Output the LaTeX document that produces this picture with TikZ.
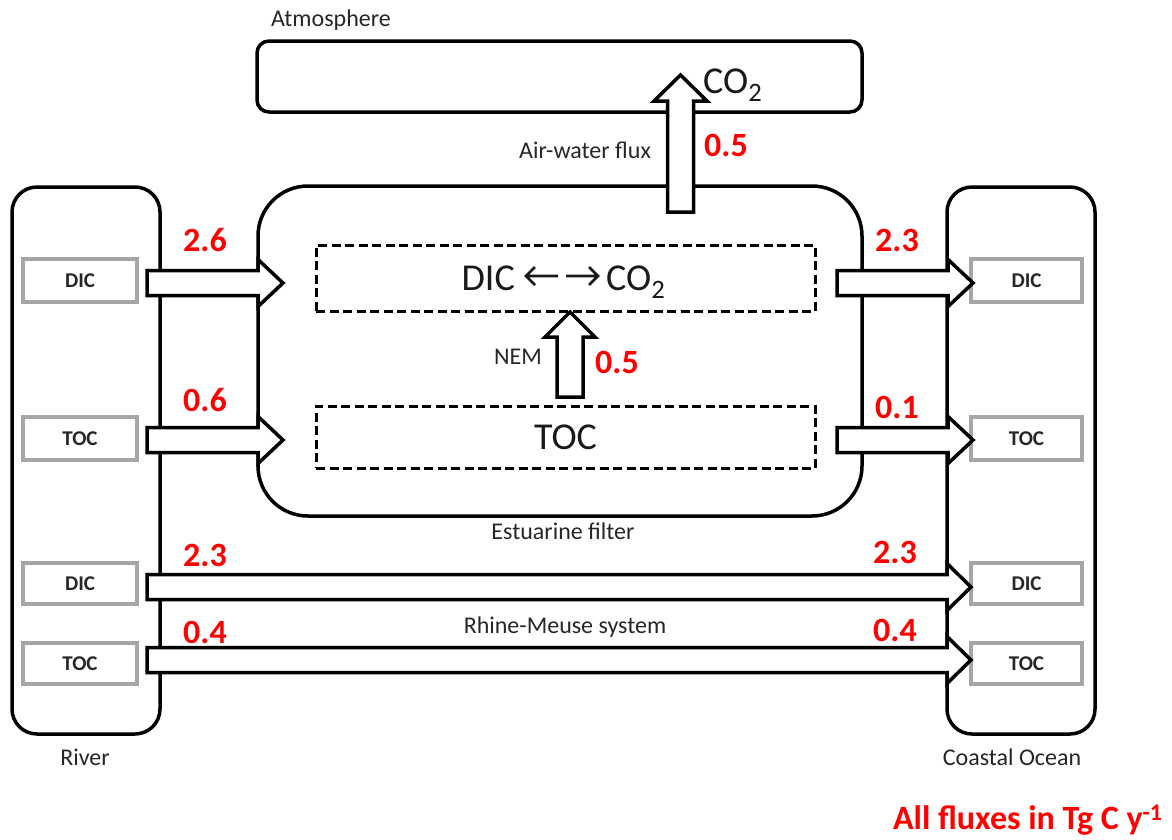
\documentclass[tikz,border=0pt]{standalone}
\usepackage{fontspec}
\setmainfont{Carlito}
\newcommand\rblock[4]{\draw[barrow] (#1,{#4-12.5}) -- (#2,{#4-12.5}) -- (#2,{#4-23.5}) -- (#3,#4) -- (#2,{#4+23.5}) -- (#2,{#4+12.5}) -- (#1,{#4+12.5}) -- cycle;}
\newcommand\ublock[5]{\draw[barrow] ({#1-13},#2) -- ({#1-13},#3) -- ({#1-#5},#3) -- (#1,#4) -- ({#1+#5},#3) -- ({#1+13},#3) -- ({#1+13},#2) -- cycle;}
\begin{document}
\begin{tikzpicture}[x=1pt,y=-1pt,
  box/.style={draw, line width=3.5pt, fill=white, inner sep=0pt},
  gbox/.style={draw=black!35, line width=3.3pt, fill=white, inner sep=0pt, text=black!85, font=\bfseries\fontsize{21}{21}\selectfont},
  dbox/.style={draw, line width=3pt, dash pattern=on 9pt off 4.5pt, inner sep=0pt},
  num/.style={text=red, font=\bfseries\fontsize{34}{34}\selectfont},
  lab/.style={text=black!85, font=\fontsize{24}{24}\selectfont},
  big/.style={text=black!90, font=\fontsize{38}{38}\selectfont},
  barrow/.style={draw, line width=3.5pt, fill=white, line join=miter},
  sarrow/.style={draw=black!90, line width=2.6pt, line join=miter}]
\useasboundingbox (0,0) rectangle (1172,839);
% main boxes
\node[box, rounded corners=12pt, minimum width=605pt, minimum height=71pt] (atm) at (559.5,76.5) {};
\node[box, rounded corners=25pt, minimum width=148pt, minimum height=547pt] (river) at (86,460.5) {};
\node[box, rounded corners=25pt, minimum width=148pt, minimum height=547pt] (ocean) at (1021,460.5) {};
\node[box, rounded corners=50pt, minimum width=604pt, minimum height=330pt] (est) at (560,351) {};
% dashed inner boxes
\node[dbox, minimum width=499pt, minimum height=66pt] (edic) at (565.5,278) {};
\node[dbox, minimum width=499pt, minimum height=62pt, big] (etoc) at (565.5,437) {TOC};
\node[big, anchor=base east, inner sep=0pt] (tdic) at (515,290) {DIC};
\node[big, anchor=base west, inner sep=0pt] (tco2b) at (606,290) {CO\textsubscript{2}};
\coordinate (la) at (558,276);
\coordinate (lb) at (526,276);
\coordinate (ra) at (566,276);
\coordinate (rb) at (598,276);
\draw[sarrow] (la) -- (lb) ++(9,-9) -- (lb) -- ++(9,9);
\draw[sarrow] (ra) -- (rb) ++(-9,-9) -- (rb) -- ++(-9,9);
% grey boxes
\node[gbox, minimum width=114pt, minimum height=43pt] (rdic) at (80,280.5) {DIC};
\node[gbox, minimum width=114pt, minimum height=43pt] (rtoc) at (80,438.5) {TOC};
\node[gbox, minimum width=114pt, minimum height=41pt] (rdic2) at (80,583.5) {DIC};
\node[gbox, minimum width=114pt, minimum height=41pt] (rtoc2) at (80,663.5) {TOC};
\node[gbox, minimum width=111pt, minimum height=43pt] (odic) at (1026.5,280.5) {DIC};
\node[gbox, minimum width=111pt, minimum height=43pt] (otoc) at (1026.5,438.5) {TOC};
\node[gbox, minimum width=111pt, minimum height=41pt] (odic2) at (1026.5,583.5) {DIC};
\node[gbox, minimum width=111pt, minimum height=41pt] (otoc2) at (1026.5,663.5) {TOC};
% block arrows
\rblock{147}{258}{283}{283}
\rblock{147}{258}{283}{440}
\rblock{837}{948}{973}{283}
\rblock{837}{948}{973}{440}
\rblock{147}{947}{971}{587}
\rblock{147}{947}{971}{660}
\ublock{680.5}{212}{101}{75}{26.5}
\ublock{570}{397}{337}{312}{25}
% texts
\node[lab] (tatm) at (331,20) {Atmosphere};
\node[big, anchor=base west, inner sep=0pt] (tco2) at (703,93) {CO\textsubscript{2}};
\node[lab] (taw) at (585,150) {Air-water flux};
\node[num] (n1) at (726,145) {0.5};
\node[lab] (tnem) at (518,357) {NEM};
\node[num] (n2) at (617,362) {0.5};
\node[lab] (test) at (563,531) {Estuarine filter};
\node[lab] (triv) at (85,757) {River};
\node[lab] (toce) at (1012,757) {Coastal Ocean};
\node[lab] (trm) at (565,627) {Rhine-Meuse system};
\node[num] (n3) at (205,240) {2.6};
\node[num] (n4) at (205,400) {0.6};
\node[num] (n5) at (897,240) {2.3};
\node[num] (n6) at (897,407) {0.1};
\node[num] (n7) at (205,555) {2.3};
\node[num] (n8) at (895,552) {2.3};
\node[num] (n9) at (205,632) {0.4};
\node[num] (n10) at (895,630) {0.4};
\node[num, anchor=east, font=\bfseries\fontsize{34}{34}\selectfont] (tall) at (1166,820) {All fluxes in Tg C y\textsuperscript{-1}};
\end{tikzpicture}
\end{document}
